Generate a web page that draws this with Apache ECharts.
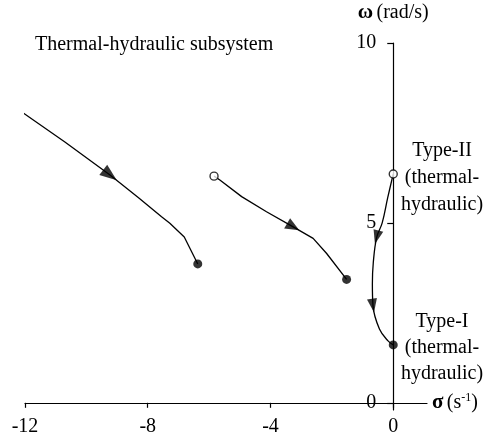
<!DOCTYPE html>
<html><head><meta charset="utf-8">
<script src="https://cdn.jsdelivr.net/npm/echarts@6/dist/echarts.min.js"></script>
<style>html,body{margin:0;padding:0;background:#fff}#c{width:484px;height:445px}</style>
</head><body><div id="c"></div>
<script>
// ---- data (σ, ω) ----
const curve1 = [[-12.12,8.09],[-10.7,7.25],[-9.23,6.33],[-8.3,5.7],[-7.55,5.17],[-7.28,4.99],[-6.81,4.61],[-6.37,3.86]];
const curve2 = [[-5.84,6.30],[-5.65,6.19],[-4.94,5.73],[-4.13,5.31],[-3.26,4.89],[-2.61,4.57],[-2.17,4.15],[-1.52,3.43]];
const curve3 = [[0,6.36],[-0.18,5.7],[-0.36,5.0],[-0.54,4.6],[-0.65,3.9],[-0.68,3.3],[-0.66,2.7],[-0.45,2.05],[-0.17,1.72],[0,1.61]];
const arrows1 = [[-9.23,6.33]];
const arrows2 = [[-3.26,4.89]];
const arrows3 = [[-0.54,4.6],[-0.66,2.7]];
const openPoints = [[-5.84,6.30],[0,6.36]];
const filledPoints = [[-6.37,3.86],[-1.52,3.43],[0,1.61]];
const xTicks = [-12,-8,-4,0];
const yTicks = [0,5,10];
const titleText = 'Thermal-hydraulic subsystem';
const typeIIText = 'Type-II\n(thermal-\nhydraulic)';
const typeIText = 'Type-I\n(thermal-\nhydraulic)';

const FONT = '"Liberation Serif","Times New Roman",serif';
const FS = 20;
const X_MIN = -12, X_MAX = 1.1, Y_MIN = -0.2, Y_MAX = 10;
const GRID = {left:25, right:57, top:43, bottom:35};
const chart = echarts.init(document.getElementById('c'), null, {renderer:'canvas'});

// y axis sits on σ = 0
const plotW = 484 - GRID.left - GRID.right;
const yOffset = -((0 - X_MIN) / (X_MAX - X_MIN) * plotW);

function lineSeries(d){
  return {type:'line', data:d, symbol:'none', smooth:false, clip:false,
    lineStyle:{color:'#000', width:1.3}, z:2, silent:true};
}
chart.setOption({
  animation:false,
  backgroundColor:'#fff',
  title:{text:titleText, left:35, top:35, padding:0,
    textStyle:{fontFamily:FONT, fontSize:FS, fontWeight:'normal', color:'#000'}},
  grid:Object.assign({outerBoundsMode:'none', containLabel:false}, GRID),
  xAxis:{type:'value', min:X_MIN, max:X_MAX,
    axisLine:{onZero:true, lineStyle:{color:'#000', width:1.2}},
    axisTick:{customValues:xTicks, length:5, lineStyle:{color:'#000', width:1.2}},
    axisLabel:{customValues:xTicks, fontFamily:FONT, fontSize:FS, color:'#000', margin:7,
      alignMinLabel:'center', alignMaxLabel:'center', hideOverlap:false},
    splitLine:{show:false},
    name:'{a|σ} {b|(s}{s|-1}{b|)}', nameLocation:'end', nameGap:5,
    nameTextStyle:{rich:{
      a:{fontFamily:FONT, fontSize:21, color:'#000', fontWeight:'bold'},
      b:{fontFamily:FONT, fontSize:FS, color:'#000'},
      s:{fontFamily:FONT, fontSize:12, color:'#000', verticalAlign:'top'}}}
  },
  yAxis:{type:'value', min:Y_MIN, max:Y_MAX, position:'left', offset:yOffset,
    axisLine:{onZero:false, lineStyle:{color:'#000', width:1.2}},
    axisTick:{customValues:yTicks, length:6, lineStyle:{color:'#000', width:1.2}},
    axisLabel:{customValues:yTicks, fontFamily:FONT, fontSize:FS, color:'#000', margin:17, hideOverlap:false},
    splitLine:{show:false},
    name:'{a|ω} {b|(rad/s)}', nameLocation:'end', nameGap:20,
    nameTextStyle:{rich:{
      a:{fontFamily:FONT, fontSize:21, color:'#000', fontWeight:'bold'},
      b:{fontFamily:FONT, fontSize:FS, color:'#000'}}}
  },
  graphic:[
    {type:'text', x:442, y:137, style:{text:typeIIText, fill:'#000', font:FS+'px '+FONT, textAlign:'center', lineHeight:27}},
    {type:'text', x:442, y:309, style:{text:typeIText, fill:'#000', font:FS+'px '+FONT, textAlign:'center', lineHeight:26}}
  ],
  series:[
    lineSeries(curve1), lineSeries(curve2),
    Object.assign(lineSeries(curve3), {smooth:0.4})
  ]
});

function arrowAngle(curve, pt){
  const P = curve.map(p => chart.convertToPixel({gridIndex:0}, p));
  const a = chart.convertToPixel({gridIndex:0}, pt);
  let best = null, bd = Infinity;
  for (let i=0;i<P.length-1;i++){
    const [x1,y1]=P[i],[x2,y2]=P[i+1]; const dx=x2-x1, dy=y2-y1;
    const t=Math.max(0,Math.min(1,((a[0]-x1)*dx+(a[1]-y1)*dy)/(dx*dx+dy*dy)));
    const d=Math.hypot(x1+t*dx-a[0], y1+t*dy-a[1]);
    if (d < bd - 1e-6){ bd=d; best=[dx,dy];
      if (i+2 < P.length && t>=0.999){ const nx=P[i+2][0]-x2, ny=P[i+2][1]-y2; best=[dx/Math.hypot(dx,dy)+nx/Math.hypot(nx,ny), dy/Math.hypot(dx,dy)+ny/Math.hypot(nx,ny)]; }
    }
  }
  const phi = Math.atan2(-best[1], best[0])*180/Math.PI;
  return phi - 90;
}
function arrowSeries(curve, pts, size){
  return {type:'scatter', symbol:'triangle', symbolSize:size, z:4, silent:true,
    itemStyle:{color:'#000'},
    data: pts.map(p => ({value:p, symbolRotate: arrowAngle(curve, p)}))};
}
chart.setOption({series:[
  lineSeries(curve1), lineSeries(curve2),
  Object.assign(lineSeries(curve3), {smooth:0.4}),
  arrowSeries(curve1, arrows1, [13,17]),
  arrowSeries(curve2, arrows2, [12,14]),
  arrowSeries(curve3, arrows3, [10,14]),
  {type:'scatter', data:openPoints, symbol:'circle', symbolSize:8, z:5, silent:true,
    itemStyle:{color:'#fff', borderColor:'#000', borderWidth:1.4}},
  {type:'scatter', data:filledPoints, symbol:'circle', symbolSize:9, z:5, silent:true,
    itemStyle:{color:'#000'}}
]});
</script></body></html>
